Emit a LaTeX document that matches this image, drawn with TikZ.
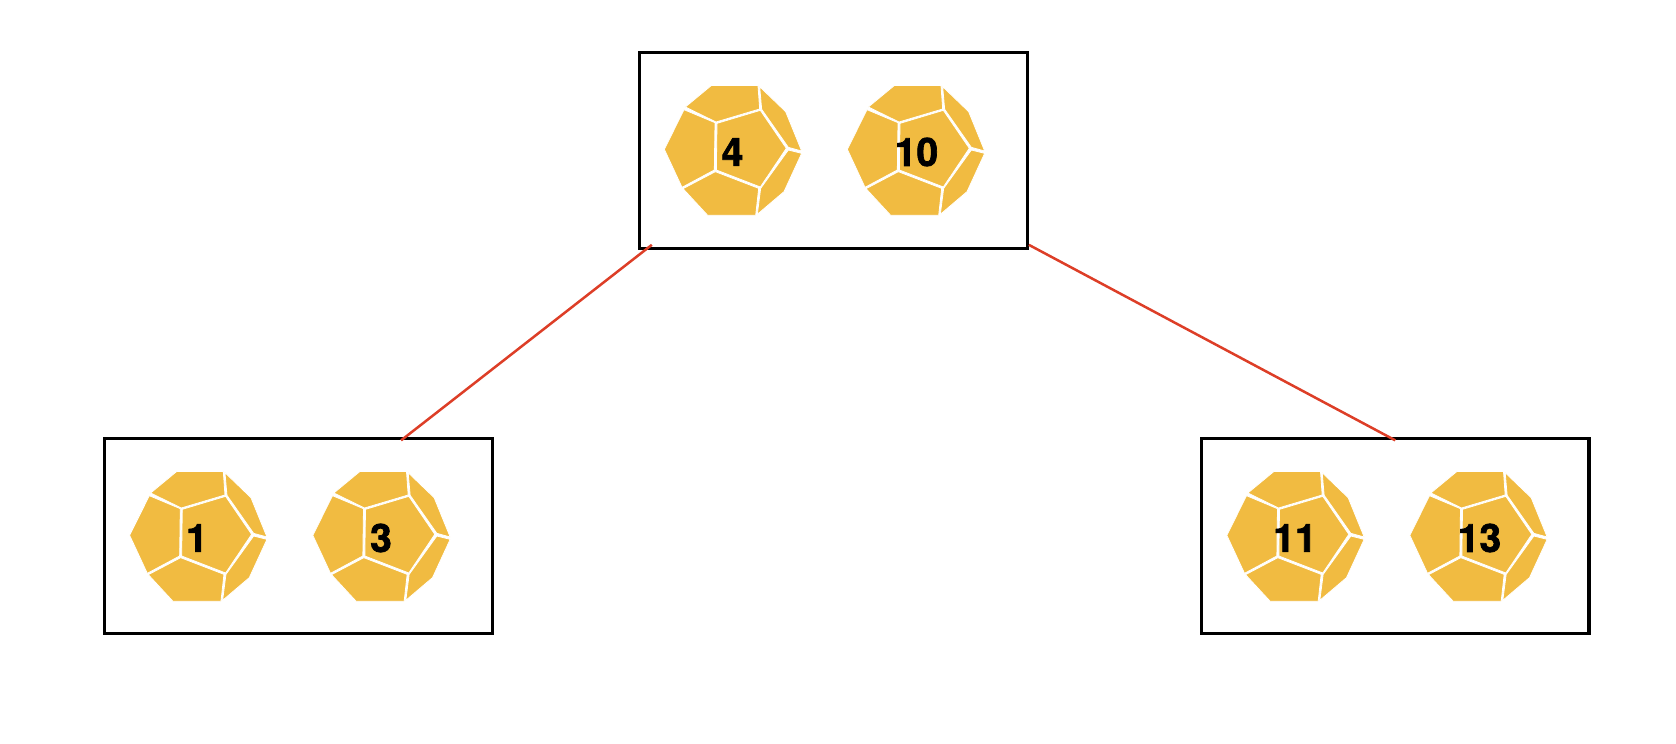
\documentclass[tikz,border=0pt]{standalone}
\usepackage{fontspec}
\setmainfont[BoldFeatures={FakeBold=1.8}]{TeX Gyre Heros}
\definecolor{gold}{HTML}{F1BB41}
\definecolor{linkred}{HTML}{DD3E27}
\tikzset{
  x=1pt,y=-1pt,
  groupbox/.style={draw=black,line width=3.3pt,minimum width=387.5pt,minimum height=195pt,inner sep=0pt,fill=none},
  link/.style={draw=linkred,line width=2.5pt},
  numlabel/.style={font=\bfseries\fontsize{39}{39}\selectfont,text=black,inner sep=0pt},
  facet/.style={fill=gold,draw=white,line width=0.8pt,line join=miter},
  dodeca/.pic={
    \begin{scope}[scale=1/3]
    \path[facet] (85,141)--(163,76.5)--(303,76.5)--(308,147)--(177,186)--cycle;
    \path[facet] (81,149)--(22,268)--(75,382)--(172,330)--(174,188)--cycle;
    \path[facet] (180,190)--(310,151)--(388,265)--(310,381)--(178,330)--cycle;
    \path[facet] (308,80)--(386,155)--(434,273)--(394,262)--(314,148)--cycle;
    \path[facet] (434,280)--(381,395)--(301,463)--(311,385)--(394,270)--cycle;
    \path[facet] (78,386)--(175,335)--(305,385)--(296,466)--(152,466)--cycle;
    \end{scope}
  }
}
\begin{document}
\begin{tikzpicture}
\useasboundingbox (0,0) rectangle (1676,744);
\node[groupbox,minimum height=196pt] (top) at (833.5,150.2) {};
\node[groupbox] (left) at (298.5,536) {};
\node[groupbox] (right) at (1395.3,536) {};
\pic at (657,60) {dodeca};
\pic at (840,60) {dodeca};
\pic at (122.3,446) {dodeca};
\pic at (305.5,446) {dodeca};
\pic at (1219.5,446) {dodeca};
\pic at (1402.5,446) {dodeca};
\node[numlabel] (n4) at (732.5,152) {4};
\node[numlabel] (n10) at (916.5,152) {10};
\node[numlabel] (n1) at (197,538) {1};
\node[numlabel] (n3) at (381,538) {3};
\node[numlabel] (n11) at (1295,538) {11};
\node[numlabel] (n13) at (1479.5,538) {13};
\coordinate (topa) at ([xshift=13.7pt,yshift=5pt]top.south west);
\coordinate (topb) at ([yshift=5pt]top.south east);
\coordinate (lefta) at ([xshift=298pt,yshift=-3.5pt]left.north west);
\coordinate (righta) at ([yshift=-3.5pt]right.north);
\draw[link] (topa) -- (lefta);
\draw[link] (topb) -- (righta);
\end{tikzpicture}
\end{document}
